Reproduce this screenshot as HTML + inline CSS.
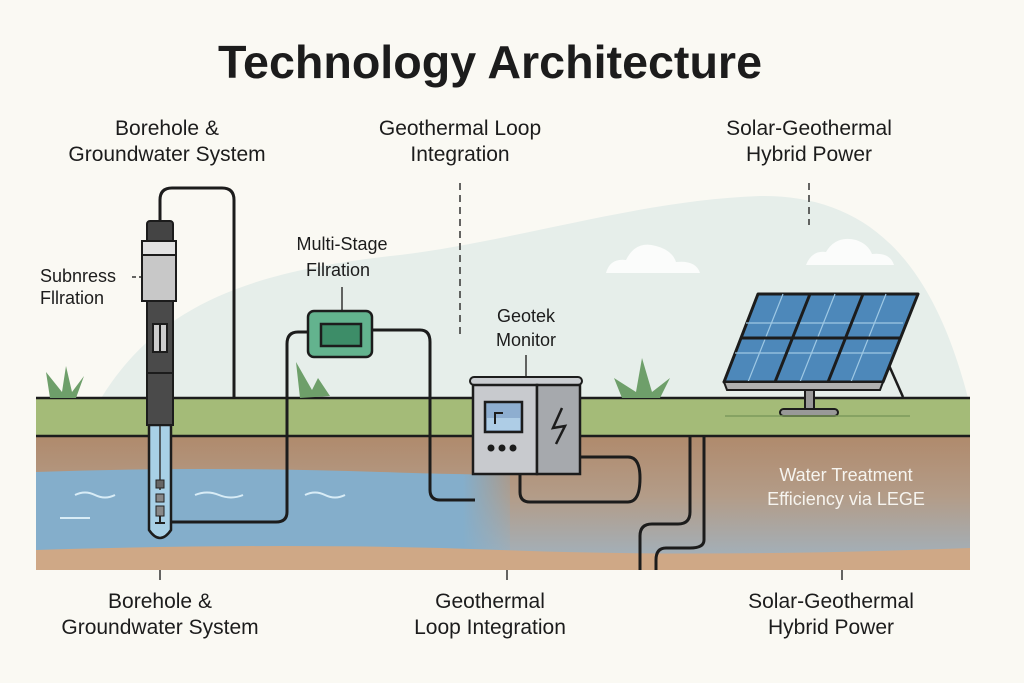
<!DOCTYPE html>
<html><head><meta charset="utf-8"><style>
html,body{margin:0;padding:0;background:#faf9f3;}
svg{display:block;}
text{font-family:"Liberation Sans",sans-serif;fill:#1c1c1c;}
</style></head><body>
<svg width="1024" height="683" viewBox="0 0 1024 683" xmlns="http://www.w3.org/2000/svg">
<defs>
<linearGradient id="rw" x1="0" y1="0" x2="0" y2="1">
<stop offset="0" stop-color="#b08a6c"/><stop offset="0.45" stop-color="#b39c88"/><stop offset="1" stop-color="#9fb4c4"/>
</linearGradient>
<linearGradient id="wh" x1="0" y1="0" x2="1" y2="0">
<stop offset="0" stop-color="#84aecb"/><stop offset="0.88" stop-color="#84aecb"/><stop offset="1" stop-color="#84aecb" stop-opacity="0"/>
</linearGradient>
</defs>
<rect width="1024" height="683" fill="#faf9f3"/>
<path d="M100 400 C160 300 260 270 400 255 C520 240 640 200 760 196 C860 195 930 250 968 398 Z" fill="#e6eeea"/>
<path d="M606 273 Q610 258 626 260 Q636 240 656 246 Q672 250 676 262 Q696 260 700 273 Z" fill="#fbfcfb"/>
<path d="M806 265 Q812 250 826 252 Q836 235 856 240 Q868 244 872 254 Q890 252 894 265 Z" fill="#fbfcfb"/>
<text x="490" y="78" font-size="46" font-weight="bold" text-anchor="middle" textLength="544" lengthAdjust="spacingAndGlyphs">Technology Architecture</text>
<g font-size="21" text-anchor="middle">
<text x="167" y="135">Borehole &amp;</text>
<text x="167" y="161">Groundwater System</text>
<text x="460" y="135">Geothermal Loop</text>
<text x="460" y="161">Integration</text>
<text x="809" y="135">Solar-Geothermal</text>
<text x="809" y="161">Hybrid Power</text>
<text x="160" y="608">Borehole &amp;</text>
<text x="160" y="634">Groundwater System</text>
<text x="490" y="608">Geothermal</text>
<text x="490" y="634">Loop Integration</text>
<text x="831" y="608">Solar-Geothermal</text>
<text x="831" y="634">Hybrid Power</text>
</g>
<g font-size="18">
<text x="40" y="282">Subnress</text>
<text x="40" y="304">Fllration</text>
<text x="342" y="250" text-anchor="middle">Multi-Stage</text>
<text x="338" y="276" text-anchor="middle">Fllration</text>
<text x="526" y="322" text-anchor="middle">Geotek</text>
<text x="526" y="346" text-anchor="middle">Monitor</text>
</g>
<g stroke="#333" stroke-width="1.5" fill="none">
<path d="M460 183 V335" stroke-dasharray="7 5"/>
<path d="M809 183 V225" stroke-dasharray="7 5"/>
<path d="M132 277 H145" stroke-dasharray="4 3"/>
<path d="M342 287 V312"/>
<path d="M526 355 V377"/>
<path d="M160 570 V580 M507 570 V580 M842 570 V580"/>
</g>
<rect x="36" y="436" width="934" height="134" fill="url(#rw)"/>
<rect x="36" y="398" width="934" height="38" fill="#a4bb78"/>
<path d="M36 472 Q200 466 380 472 T510 470 L510 550 L36 550 Z" fill="url(#wh)"/>
<path d="M36 550 Q300 542 500 550 T970 548 L970 570 L36 570 Z" fill="#cfa886"/>
<g stroke="#d8ecf6" stroke-width="2" fill="none">
<path d="M75 495 q10 -5 20 0 t20 0"/><path d="M195 495 q12 -5 24 0 t24 0"/><path d="M305 495 q10 -5 20 0 t20 0"/><path d="M60 518 h30"/>
</g>
<line x1="36" y1="398" x2="970" y2="398" stroke="#1c1c1c" stroke-width="2.5"/>
<line x1="36" y1="436" x2="970" y2="436" stroke="#1c1c1c" stroke-width="2.5"/>
<g fill="#6e9f6a">
<path d="M50 398 L46 372 L62 392 L66 366 L72 392 L84 376 L76 398 Z"/>
<path d="M300 398 L296 362 L312 390 L318 378 L330 396 Z"/>
<path d="M622 398 L614 378 L636 392 L642 358 L652 392 L670 378 L660 398 Z"/>
</g>
<g stroke="#1c1c1c" stroke-width="3" fill="none" stroke-linejoin="round">
<path d="M160 222 V200 Q160 188 172 188 H222 Q234 188 234 200 V398"/>
<path d="M308 332 H298 Q287 332 287 344 V512 Q287 522 276 522 H172"/>
<path d="M372 330 H420 Q430 330 430 342 V490 Q430 500 440 500 H475"/>
<path d="M520 474 V492 Q520 502 530 502 H628 Q640 502 640 478 Q640 457 628 457 H580"/>
<path d="M690 436 V512 Q690 524 678 524 H652 Q640 524 640 536 V570"/>
<path d="M704 436 V540 Q704 548 690 548 H666 Q656 548 656 560 V570"/>
</g>
<path d="M149 425 V530 Q160 546 171 530 V425 Z" fill="#a8d0e6" stroke="#1c1c1c" stroke-width="2.5"/>
<line x1="160" y1="425" x2="160" y2="490" stroke="#333" stroke-width="1.5"/>
<rect x="156" y="480" width="8" height="8" fill="#666" stroke="#222"/>
<rect x="156" y="494" width="8" height="8" fill="#888" stroke="#222"/>
<rect x="156" y="506" width="8" height="10" fill="#888" stroke="#222"/>
<path d="M160 516 V523 M155 523 H165" stroke="#222" stroke-width="2"/>
<rect x="147" y="221" width="26" height="22" rx="3" fill="#444" stroke="#1c1c1c" stroke-width="2"/>
<rect x="147" y="243" width="26" height="182" fill="#4a4a4a" stroke="#1c1c1c" stroke-width="2"/>
<rect x="142" y="241" width="34" height="60" fill="#c8c8c8" stroke="#1c1c1c" stroke-width="2"/>
<rect x="142" y="241" width="34" height="14" fill="#e2e2e2" stroke="#1c1c1c" stroke-width="2"/>
<rect x="153" y="324" width="14" height="28" fill="#ccc" stroke="#1c1c1c" stroke-width="2"/>
<line x1="160" y1="324" x2="160" y2="352" stroke="#1c1c1c" stroke-width="2"/>
<line x1="147" y1="373" x2="173" y2="373" stroke="#1c1c1c" stroke-width="2"/>
<rect x="308" y="311" width="64" height="46" rx="6" fill="#63b38e" stroke="#1c1c1c" stroke-width="2.5"/>
<rect x="321" y="324" width="40" height="22" fill="#3d8d68" stroke="#1c1c1c" stroke-width="2.5"/>
<rect x="470" y="377" width="112" height="8" rx="4" fill="#c9ccd0" stroke="#1c1c1c" stroke-width="2"/>
<rect x="473" y="385" width="64" height="89" fill="#c8cace" stroke="#1c1c1c" stroke-width="2.5"/>
<rect x="537" y="385" width="43" height="89" fill="#a6a9ad" stroke="#1c1c1c" stroke-width="2.5"/>
<rect x="485" y="402" width="37" height="30" fill="#8eaed0" stroke="#1c1c1c" stroke-width="2.5"/>
<rect x="487" y="418" width="33" height="12" fill="#aecde6"/>
<path d="M495 424 V413 H503" stroke="#1c1c1c" stroke-width="2" fill="none"/>
<g fill="#1c1c1c"><circle cx="491" cy="448" r="3.5"/><circle cx="502" cy="448" r="3.5"/><circle cx="513" cy="448" r="3.5"/></g>
<path d="M562 408 L553 428 L565 426 L556 444" stroke="#1c1c1c" stroke-width="2.5" fill="none"/>
<line x1="880" y1="345" x2="903" y2="397" stroke="#1c1c1c" stroke-width="2.5"/>
<rect x="805" y="380" width="9" height="30" fill="#999" stroke="#1c1c1c" stroke-width="2"/>
<rect x="780" y="409" width="58" height="7" rx="3.5" fill="#999" stroke="#1c1c1c" stroke-width="2"/>
<line x1="725" y1="416" x2="910" y2="416" stroke="#7d9a5c" stroke-width="1.5"/>
<path d="M758 294 L918 294 L883 382 L724 382 Z" fill="#4d88ba" stroke="#1c1c1c" stroke-width="3" stroke-linejoin="round"/>
<g stroke="#9ec8e4" stroke-width="1.2">
<path d="M746 323 H903 M735 353 H891"/>
<path d="M783 294 L748 382 M835 294 L800 382 M886 294 L851 382"/>
</g>
<g stroke="#1c1c1c" stroke-width="3">
<path d="M741 338 H900"/>
<path d="M810 294 L775 382 M863 294 L828 382"/>
</g>
<path d="M724 382 L883 382 L880 390 L727 390 Z" fill="#b0b0b0" stroke="#1c1c1c" stroke-width="2"/>
<text x="846" y="481" font-size="18" text-anchor="middle" style="fill:#f6f4ef">Water Treatment</text>
<text x="846" y="505" font-size="18" text-anchor="middle" style="fill:#f6f4ef">Efficiency via LEGE</text>
</svg>
</body></html>
